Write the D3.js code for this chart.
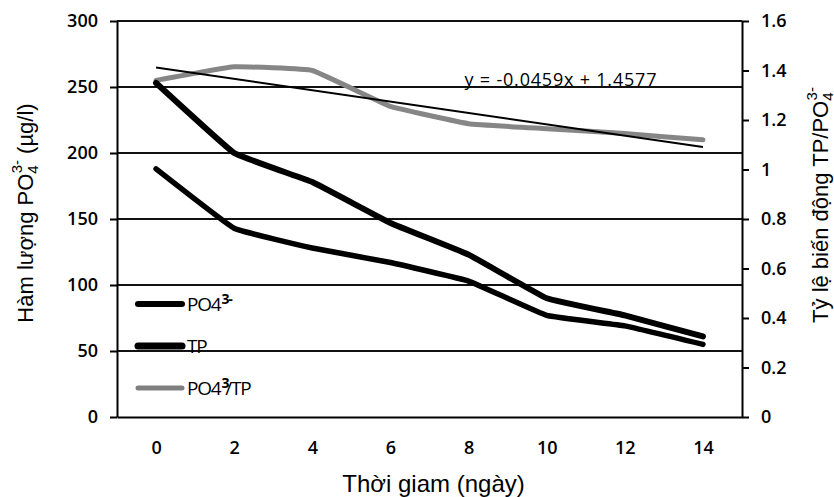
<!DOCTYPE html>
<html>
<head>
<meta charset="utf-8">
<script src="https://cdn.jsdelivr.net/npm/d3@7"></script>
<style>
  body { margin: 0; background: #fff; }
  svg { display: block; }
  .title { font-family: "Liberation Sans", Arial, sans-serif; font-size: 22px; fill: #000; }
</style>
</head>
<body>
<svg id="chart" width="834" height="497"></svg>
<script>
const days = [0, 2, 4, 6, 8, 10, 12, 14];
const tp = [253, 200, 178, 147, 123, 90, 77, 61];
const po4 = [188, 143, 128, 117, 103, 77, 69, 55];
const ratio = [1.36, 1.415, 1.40, 1.255, 1.185, 1.165, 1.145, 1.12];
const leftTicks = [0, 50, 100, 150, 200, 250, 300];
const rightTicks = [0, 0.2, 0.4, 0.6, 0.8, 1, 1.2, 1.4, 1.6];
const trendSlope = -0.0459;
const trendIntercept = 1.4577;

const svg = d3.select('#chart');
const margin = { top: 21, right: 92, bottom: 80, left: 117 };
const width = +svg.attr('width');
const height = +svg.attr('height');
const innerWidth = width - margin.left - margin.right;
const innerHeight = height - margin.top - margin.bottom;

const g = svg.append('g')
    .attr('transform', `translate(${margin.left},${margin.top})`);

const x = d3.scalePoint()
    .domain(days)
    .range([0, innerWidth])
    .padding(0.5);
const y = d3.scaleLinear().domain([0, 300]).range([innerHeight, 0]);
const y2 = d3.scaleLinear().domain([0, 1.6]).range([innerHeight, 0]);

// gridlines
g.selectAll('.grid')
    .data(leftTicks.filter(d => d > 0)).enter()
    .append('line')
    .attr('x1', 0).attr('x2', innerWidth)
    .attr('y1', d => y(d)).attr('y2', d => y(d))
    .attr('stroke', '#111')
    .attr('stroke-width', 1.8);

function styleAxis(a) {
    a.attr('font-family', '"Open Sans", sans-serif')
        .attr('font-size', 18)
        .attr('font-weight', 600);
    a.selectAll('line, .domain').attr('stroke', '#000').attr('stroke-width', 2);
}

// x axis
const xAxis = g.append('g')
    .attr('transform', `translate(0,${innerHeight})`)
    .call(d3.axisBottom(x).tickSize(0).tickPadding(24));
styleAxis(xAxis);

// left axis
const yAxis = g.append('g')
    .call(d3.axisLeft(y).tickValues(leftTicks).tickSize(7).tickSizeOuter(0).tickPadding(12));
styleAxis(yAxis);

// right axis
const y2Axis = g.append('g')
    .attr('transform', `translate(${innerWidth},0)`)
    .call(d3.axisRight(y2).tickValues(rightTicks).tickSize(7).tickSizeOuter(0).tickPadding(12)
        .tickFormat(d => String(+d.toFixed(1))));
styleAxis(y2Axis);

// series
const lineL = d3.line()
    .x((d, i) => x(days[i]))
    .y(d => y(d))
    .curve(d3.curveCardinal.tension(0.75));
const lineR = d3.line()
    .x((d, i) => x(days[i]))
    .y(d => y2(d))
    .curve(d3.curveCardinal.tension(0.75));

g.append('path').datum(ratio)
    .attr('d', lineR)
    .attr('fill', 'none')
    .attr('stroke', '#868686')
    .attr('stroke-width', 5)
    .attr('stroke-linecap', 'round');

g.append('path').datum(tp)
    .attr('d', lineL)
    .attr('fill', 'none')
    .attr('stroke', '#000')
    .attr('stroke-width', 6)
    .attr('stroke-linecap', 'round');

g.append('path').datum(po4)
    .attr('d', lineL)
    .attr('fill', 'none')
    .attr('stroke', '#000')
    .attr('stroke-width', 5.5)
    .attr('stroke-linecap', 'round');

// linear trend on ratio (x = 1..n)
const trend = [1, days.length].map(k => trendIntercept + trendSlope * k);
g.append('line')
    .attr('x1', x(days[0])).attr('x2', x(days[days.length - 1]))
    .attr('y1', y2(trend[0])).attr('y2', y2(trend[1]))
    .attr('stroke', '#000')
    .attr('stroke-width', 2);

g.append('text')
    .attr('x', x(8) - 4)
    .attr('y', y(250) - 1)
    .style('font-family', '"Open Sans", sans-serif')
    .style('font-size', '18px')
    .style('letter-spacing', '0.8px')
    .text(`y = ${trendSlope}x + ${trendIntercept}`);

// legend
const legendItems = [
    { label: 'PO4', sup: '3-', rest: '', color: '#000', w: 6 },
    { label: 'TP', sup: '', rest: '', color: '#000', w: 7 },
    { label: 'PO4', sup: '3', rest: '/TP', color: '#808080', w: 5 }
];
const legend = g.append('g').attr('transform', 'translate(21, 283)');
legendItems.forEach((d, i) => {
    const row = legend.append('g').attr('transform', `translate(0,${i * 42})`);
    row.append('line')
        .attr('x1', 0).attr('x2', 44)
        .attr('stroke', d.color)
        .attr('stroke-width', d.w)
        .attr('stroke-linecap', 'round');
    const t = row.append('text')
        .attr('x', 49).attr('y', 7)
        .style('font-family', '"Open Sans", sans-serif')
        .style('font-size', '19px')
        .style('letter-spacing', '-1.2px');
    t.append('tspan').text(d.label);
    if (d.sup) t.append('tspan').attr('dy', -7).attr('dx', 1).style('font-size', '14px').style('font-weight', 700).text(d.sup);
    if (d.rest) t.append('tspan').attr('dy', 7).attr('dx', -3).text(d.rest);
});

// axis titles
const lt = svg.append('text')
    .attr('class', 'title')
    .attr('transform', 'translate(33,213) rotate(-90)')
    .attr('text-anchor', 'middle');
lt.append('tspan').text('Hàm lượng PO');
lt.append('tspan').attr('dy', 5).style('font-size', '15px').text('4');
lt.append('tspan').attr('dx', -8).attr('dy', -16).style('font-size', '15px').text('3-');
lt.append('tspan').attr('dy', 11).text('  (µg/l)');

const rt = svg.append('text')
    .attr('class', 'title')
    .attr('transform', 'translate(828,205) rotate(-90)')
    .attr('text-anchor', 'middle');
rt.append('tspan').text('Tỷ lệ biến động TP/PO');
rt.append('tspan').attr('dy', 5).style('font-size', '15px').text('4');
rt.append('tspan').attr('dx', -8).attr('dy', -16).style('font-size', '15px').text('3-');

svg.append('text')
    .attr('class', 'title')
    .attr('x', margin.left + innerWidth / 2 + 4)
    .attr('y', 492)
    .attr('text-anchor', 'middle')
    .style('font-size', '24px')
    .text('Thời giam (ngày)');
</script>
</body>
</html>
